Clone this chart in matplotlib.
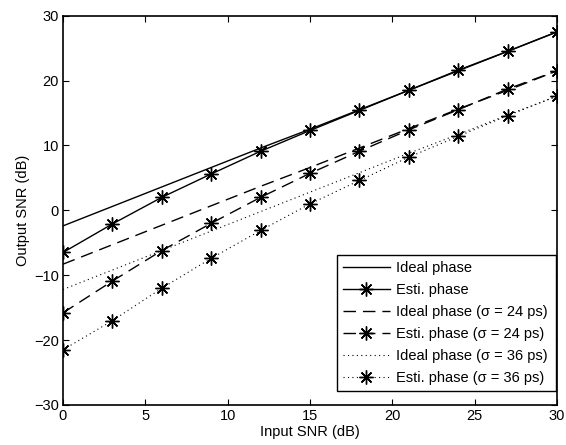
import numpy as np
import matplotlib
matplotlib.use("Agg")
import matplotlib.pyplot as plt

plt.rcParams['font.family'] = ['Liberation Sans', 'DejaVu Sans']

# input SNR grid (dB)
snr_in = [0, 3, 6, 9, 12, 15, 18, 21, 24, 27, 30]

# output SNR (dB)
ideal = [-2.4, 0.6, 3.6, 6.6, 9.6, 12.5, 15.5, 18.5, 21.5, 24.5, 27.5]
esti = [-6.5, -2.1, 2.0, 5.6, 9.1, 12.3, 15.4, 18.5, 21.6, 24.5, 27.5]
ideal_24 = [-8.3, -5.3, -2.3, 0.7, 3.7, 6.6, 9.6, 12.6, 15.6, 18.5, 21.5]
esti_24 = [-15.8, -10.9, -6.2, -2.0, 2.0, 5.7, 9.1, 12.4, 15.5, 18.7, 21.5]
ideal_36 = [-12.2, -9.2, -6.2, -3.2, -0.2, 2.8, 5.8, 8.8, 11.7, 14.7, 17.6]
esti_36 = [-21.5, -17.0, -12.0, -7.4, -3.1, 1.0, 4.6, 8.2, 11.4, 14.6, 17.6]

labels = ['Ideal phase', 'Esti. phase',
          'Ideal phase (\u03c3 = 24 ps)', 'Esti. phase (\u03c3 = 24 ps)',
          'Ideal phase (\u03c3 = 36 ps)', 'Esti. phase (\u03c3 = 36 ps)']

fig = plt.figure(figsize=(5.66, 4.45), dpi=100)
ax = fig.add_axes([0.1113, 0.0899, 0.873, 0.875])

star = (8, 2, 0)
dash = (0, (9, 5))
dot = (0, (1, 3))
ms = 10

ax.plot(snr_in, ideal, color='black', lw=1.0, label=labels[0])
ax.plot(snr_in, esti, color='black', lw=1.0, marker=star, ms=ms, mew=1.0, label=labels[1])
ax.plot(snr_in, ideal_24, color='black', lw=1.0, linestyle=dash, label=labels[2])
ax.plot(snr_in, esti_24, color='black', lw=1.0, linestyle=dash, marker=star, ms=ms, mew=1.0, label=labels[3])
ax.plot(snr_in, ideal_36, color='black', lw=0.8, linestyle=dot, label=labels[4])
ax.plot(snr_in, esti_36, color='black', lw=0.8, linestyle=dot, marker=star, ms=ms, mew=1.0, label=labels[5])

ax.set_xlim(0, 30)
ax.set_ylim(-30, 30)
ax.set_xticks(np.arange(0, 31, 5))
ax.set_yticks(np.arange(-30, 31, 10))
ax.set_yticklabels(['\u221230', '\u221220', '\u221210', '0', '10', '20', '30'])
ax.tick_params(direction='in', top=True, right=True, length=4, width=0.8,
               labelsize=10.5, colors='black', pad=3)
for s in ax.spines.values():
    s.set_linewidth(1.2)

ax.set_xlabel('Input SNR (dB)', fontsize=10.5, labelpad=1)
ax.set_ylabel('Output SNR (dB)', fontsize=10.5, labelpad=3)

leg = ax.legend(loc='lower left', bbox_to_anchor=(0.555, 0.037, 0.443, 0.35),
                mode='expand', borderaxespad=0, fontsize=10.5, handlelength=3.2,
                handletextpad=0.45, labelspacing=0.55, borderpad=0.4,
                fancybox=False, framealpha=1, edgecolor='black')
leg.get_frame().set_linewidth(1.0)

fig.savefig('out.png', dpi=100)
